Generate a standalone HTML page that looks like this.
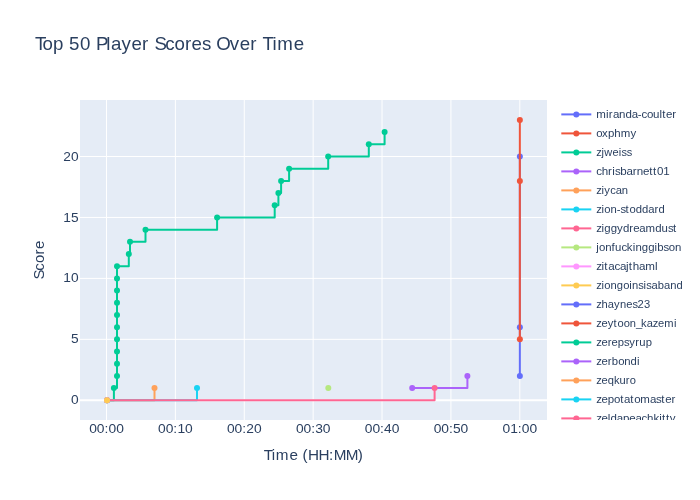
<!DOCTYPE html>
<html><head><meta charset="utf-8"><style>
html,body{margin:0;padding:0;background:#fff;}
svg{display:block;font-family:"Liberation Sans", sans-serif;will-change:transform;}
</style></head><body>
<svg width="700" height="500" viewBox="0 0 700 500">
<rect x="0" y="0" width="700" height="500" fill="#fff"/>
<rect x="80" y="100" width="467" height="320" fill="#E5ECF6"/>
<path d="M106.50,100V420" stroke="#fff" stroke-width="1"/>
<path d="M175.38,100V420" stroke="#fff" stroke-width="1"/>
<path d="M244.27,100V420" stroke="#fff" stroke-width="1"/>
<path d="M313.15,100V420" stroke="#fff" stroke-width="1"/>
<path d="M382.03,100V420" stroke="#fff" stroke-width="1"/>
<path d="M450.92,100V420" stroke="#fff" stroke-width="1"/>
<path d="M519.80,100V420" stroke="#fff" stroke-width="1"/>
<path d="M80,339.35H547" stroke="#fff" stroke-width="1"/>
<path d="M80,278.40H547" stroke="#fff" stroke-width="1"/>
<path d="M80,217.45H547" stroke="#fff" stroke-width="1"/>
<path d="M80,156.50H547" stroke="#fff" stroke-width="1"/>
<path d="M80,400.30H547" stroke="#fff" stroke-width="2"/>
<defs><clipPath id="pc"><rect x="80" y="100" width="467" height="320"/></clipPath><clipPath id="lc"><rect x="550" y="100" width="150" height="320"/></clipPath></defs>
<g clip-path="url(#pc)">
<path d="M519.85,375.92H519.85V327.16H519.85V156.50" fill="none" stroke="#636efa" stroke-width="2" stroke-linejoin="round"/>
<circle cx="519.85" cy="375.92" r="3" fill="#636efa"/>
<circle cx="519.85" cy="327.16" r="3" fill="#636efa"/>
<circle cx="519.85" cy="156.50" r="3" fill="#636efa"/>
<path d="M519.85,339.35H519.85V180.88H519.85V119.93" fill="none" stroke="#EF553B" stroke-width="2" stroke-linejoin="round"/>
<circle cx="519.85" cy="339.35" r="3" fill="#EF553B"/>
<circle cx="519.85" cy="180.88" r="3" fill="#EF553B"/>
<circle cx="519.85" cy="119.93" r="3" fill="#EF553B"/>
<path d="M107.00,400.30H113.90V388.11H117.00V375.92H117.00V363.73H117.00V351.54H117.00V339.35H117.00V327.16H117.00V314.97H117.00V302.78H117.00V290.59H117.00V278.40H117.00V266.21H128.80V254.02H130.00V241.83H145.50V229.64H217.10V217.45H274.70V205.26H278.40V193.07H281.10V180.88H289.10V168.69H328.20V156.50H368.80V144.31H384.60V132.12" fill="none" stroke="#00cc96" stroke-width="2" stroke-linejoin="round"/>
<circle cx="107.00" cy="400.30" r="3" fill="#00cc96"/>
<circle cx="113.90" cy="388.11" r="3" fill="#00cc96"/>
<circle cx="117.00" cy="375.92" r="3" fill="#00cc96"/>
<circle cx="117.00" cy="363.73" r="3" fill="#00cc96"/>
<circle cx="117.00" cy="351.54" r="3" fill="#00cc96"/>
<circle cx="117.00" cy="339.35" r="3" fill="#00cc96"/>
<circle cx="117.00" cy="327.16" r="3" fill="#00cc96"/>
<circle cx="117.00" cy="314.97" r="3" fill="#00cc96"/>
<circle cx="117.00" cy="302.78" r="3" fill="#00cc96"/>
<circle cx="117.00" cy="290.59" r="3" fill="#00cc96"/>
<circle cx="117.00" cy="278.40" r="3" fill="#00cc96"/>
<circle cx="117.00" cy="266.21" r="3" fill="#00cc96"/>
<circle cx="128.80" cy="254.02" r="3" fill="#00cc96"/>
<circle cx="130.00" cy="241.83" r="3" fill="#00cc96"/>
<circle cx="145.50" cy="229.64" r="3" fill="#00cc96"/>
<circle cx="217.10" cy="217.45" r="3" fill="#00cc96"/>
<circle cx="274.70" cy="205.26" r="3" fill="#00cc96"/>
<circle cx="278.40" cy="193.07" r="3" fill="#00cc96"/>
<circle cx="281.10" cy="180.88" r="3" fill="#00cc96"/>
<circle cx="289.10" cy="168.69" r="3" fill="#00cc96"/>
<circle cx="328.20" cy="156.50" r="3" fill="#00cc96"/>
<circle cx="368.80" cy="144.31" r="3" fill="#00cc96"/>
<circle cx="384.60" cy="132.12" r="3" fill="#00cc96"/>
<path d="M412.20,388.11H467.40V375.92" fill="none" stroke="#ab63fa" stroke-width="2" stroke-linejoin="round"/>
<circle cx="412.20" cy="388.11" r="3" fill="#ab63fa"/>
<circle cx="467.40" cy="375.92" r="3" fill="#ab63fa"/>
<path d="M107.00,400.30H154.50V388.11" fill="none" stroke="#FFA15A" stroke-width="2" stroke-linejoin="round"/>
<circle cx="107.00" cy="400.30" r="3" fill="#FFA15A"/>
<circle cx="154.50" cy="388.11" r="3" fill="#FFA15A"/>
<path d="M107.00,400.30H197.00V388.11" fill="none" stroke="#19d3f3" stroke-width="2" stroke-linejoin="round"/>
<circle cx="107.00" cy="400.30" r="3" fill="#19d3f3"/>
<circle cx="197.00" cy="388.11" r="3" fill="#19d3f3"/>
<path d="M107.00,400.30H434.60V388.11" fill="none" stroke="#FF6692" stroke-width="2" stroke-linejoin="round"/>
<circle cx="107.00" cy="400.30" r="3" fill="#FF6692"/>
<circle cx="434.60" cy="388.11" r="3" fill="#FF6692"/>
<circle cx="328.30" cy="388.11" r="3" fill="#B6E880"/>
<circle cx="107.00" cy="400.30" r="3" fill="#FF97FF"/>
<circle cx="107.00" cy="400.30" r="3" fill="#FECB52"/>
</g>
<text x="-7.14" y="0" font-size="12.84" transform="translate(78.60,404.30) scale(1.0693,1)" fill="#2a3f5f">0</text>
<text x="-7.14" y="0" font-size="12.84" transform="translate(78.60,343.38) scale(1.0693,1)" fill="#2a3f5f">5</text>
<text x="-14.28 -7.14" y="0" font-size="12.84" transform="translate(78.60,282.45) scale(1.0693,1)" fill="#2a3f5f">10</text>
<text x="-14.28 -7.14" y="0" font-size="12.84" transform="translate(78.60,221.53) scale(1.0693,1)" fill="#2a3f5f">15</text>
<text x="-14.28 -7.14" y="0" font-size="12.84" transform="translate(78.60,160.60) scale(1.0693,1)" fill="#2a3f5f">20</text>
<text x="-16.06 -8.97 -1.88 1.88 8.97" y="0" font-size="12.84" transform="translate(106.50,433.00) scale(1.0764,1)" fill="#2a3f5f">00:00</text>
<text x="-16.06 -8.97 -1.88 1.88 8.97" y="0" font-size="12.84" transform="translate(175.38,433.00) scale(1.0764,1)" fill="#2a3f5f">00:10</text>
<text x="-16.06 -8.97 -1.88 1.88 8.97" y="0" font-size="12.84" transform="translate(244.27,433.00) scale(1.0764,1)" fill="#2a3f5f">00:20</text>
<text x="-16.06 -8.97 -1.88 1.88 8.97" y="0" font-size="12.84" transform="translate(313.15,433.00) scale(1.0764,1)" fill="#2a3f5f">00:30</text>
<text x="-16.06 -8.97 -1.88 1.88 8.97" y="0" font-size="12.84" transform="translate(382.03,433.00) scale(1.0764,1)" fill="#2a3f5f">00:40</text>
<text x="-16.06 -8.97 -1.88 1.88 8.97" y="0" font-size="12.84" transform="translate(450.92,433.00) scale(1.0764,1)" fill="#2a3f5f">00:50</text>
<text x="-16.06 -8.97 -1.88 1.88 8.97" y="0" font-size="12.84" transform="translate(519.80,433.00) scale(1.0764,1)" fill="#2a3f5f">01:00</text>
<text x="-48.81 -40.85 -37.03 -23.66 -15.22 -10.85 -5.50 4.82 15.14 19.77 31.61 43.46" y="0" font-size="14.98" transform="translate(313.50,459.80) scale(1.0199,1)" fill="#2a3f5f">Time (HH:MM)</text>
<text x="-19.57 -10.70 -3.02 5.53 10.97" y="0" font-size="14.98" transform="translate(44.00,260.00) rotate(-90) scale(1.0020,1)" fill="#2a3f5f">Score</text>
<text x="0.00 7.29 17.41 27.90 33.16 43.68 54.20 59.45 69.42 74.02 84.15 93.94 104.11 110.91 116.16 126.66 135.75 145.87 152.30 162.47 171.09 176.34 189.36 199.14 209.32 216.12 221.37 230.96 235.56 251.66" y="0" font-size="18.19" transform="translate(35.00,49.80) scale(1.0281,1)" fill="#2a3f5f">Top 50 Player Scores Over Time</text>
<g clip-path="url(#lc)">
<path d="M561.3,114.40H591.3" stroke="#636efa" stroke-width="2"/>
<circle cx="576.3" cy="114.40" r="3" fill="#636efa"/>
<text x="0.00 9.04 11.62 15.43 21.12 27.00 32.89 38.58 41.93 47.03 52.71 58.59 61.17 64.81 70.52" y="0" font-size="10.70" transform="translate(596.30,117.90) scale(1.0775,1)" fill="#2a3f5f">miranda-coulter</text>
<path d="M561.3,133.40H591.3" stroke="#EF553B" stroke-width="2"/>
<circle cx="576.3" cy="133.40" r="3" fill="#EF553B"/>
<text x="0.00 5.43 10.96 16.90 22.83 31.93" y="0" font-size="10.70" transform="translate(596.30,136.90) scale(1.0696,1)" fill="#2a3f5f">oxphmy</text>
<path d="M561.3,152.40H591.3" stroke="#00cc96" stroke-width="2"/>
<circle cx="576.3" cy="152.40" r="3" fill="#00cc96"/>
<text x="0.00 5.09 7.78 15.72 21.68 24.38 29.43" y="0" font-size="10.70" transform="translate(596.30,155.90) scale(1.0312,1)" fill="#2a3f5f">zjweiss</text>
<path d="M561.3,171.40H591.3" stroke="#ab63fa" stroke-width="2"/>
<circle cx="576.3" cy="171.40" r="3" fill="#ab63fa"/>
<text x="0.00 5.08 10.93 14.73 17.30 22.11 27.97 33.63 37.27 43.12 48.81 52.43 56.05 61.93" y="0" font-size="10.70" transform="translate(596.30,174.90) scale(1.0826,1)" fill="#2a3f5f">chrisbarnett01</text>
<path d="M561.3,190.40H591.3" stroke="#FFA15A" stroke-width="2"/>
<circle cx="576.3" cy="190.40" r="3" fill="#FFA15A"/>
<text x="0.00 4.99 7.63 13.25 18.48 24.30" y="0" font-size="10.70" transform="translate(596.30,193.90) scale(1.0521,1)" fill="#2a3f5f">ziycan</text>
<path d="M561.3,209.40H591.3" stroke="#19d3f3" stroke-width="2"/>
<circle cx="576.3" cy="209.40" r="3" fill="#19d3f3"/>
<text x="0.00 4.97 7.60 13.40 19.40 22.82 27.75 31.47 37.26 43.28 49.29 55.09 58.82" y="0" font-size="10.70" transform="translate(596.30,212.90) scale(1.0558,1)" fill="#2a3f5f">zion-stoddard</text>
<path d="M561.3,228.40H591.3" stroke="#FF6692" stroke-width="2"/>
<circle cx="576.3" cy="228.40" r="3" fill="#FF6692"/>
<text x="0.00 4.91 7.51 13.45 19.39 24.93 30.87 34.51 40.27 46.00 55.12 61.06 66.99 71.86" y="0" font-size="10.70" transform="translate(596.30,231.90) scale(1.0687,1)" fill="#2a3f5f">ziggydreamdust</text>
<path d="M561.3,247.40H591.3" stroke="#B6E880" stroke-width="2"/>
<circle cx="576.3" cy="247.40" r="3" fill="#B6E880"/>
<text x="0.00 2.61 8.34 14.29 17.59 23.54 28.69 34.12 36.73 42.68 48.63 54.58 57.19 63.14 68.03 73.77" y="0" font-size="10.70" transform="translate(596.30,250.90) scale(1.0662,1)" fill="#2a3f5f">jonfuckinggibson</text>
<path d="M561.3,266.40H591.3" stroke="#FF97FF" stroke-width="2"/>
<circle cx="576.3" cy="266.40" r="3" fill="#FF97FF"/>
<text x="0.00 4.83 7.39 11.00 16.64 21.70 27.33 29.89 33.50 39.33 44.97 53.94" y="0" font-size="10.70" transform="translate(596.30,269.90) scale(1.0866,1)" fill="#2a3f5f">zitacajthaml</text>
<path d="M561.3,285.40H591.3" stroke="#FECB52" stroke-width="2"/>
<circle cx="576.3" cy="285.40" r="3" fill="#FECB52"/>
<text x="0.00 5.01 7.67 13.51 19.57 25.63 31.48 34.13 40.19 45.17 47.82 52.80 58.65 64.72 70.57 76.63" y="0" font-size="10.70" transform="translate(596.30,288.90) scale(1.0467,1)" fill="#2a3f5f">ziongoinsisaband</text>
<path d="M561.3,304.40H591.3" stroke="#636efa" stroke-width="2"/>
<circle cx="576.3" cy="304.40" r="3" fill="#636efa"/>
<text x="0.00 5.03 11.09 16.96 22.63 28.69 34.58 39.57 45.66" y="0" font-size="10.70" transform="translate(596.30,307.90) scale(1.0445,1)" fill="#2a3f5f">zhaynes23</text>
<path d="M561.3,323.40H591.3" stroke="#EF553B" stroke-width="2"/>
<circle cx="576.3" cy="323.40" r="3" fill="#EF553B"/>
<text x="0.00 5.04 10.95 16.64 20.41 26.28 32.16 38.25 43.05 48.45 54.34 59.38 65.29 74.65" y="0" font-size="10.70" transform="translate(596.30,326.90) scale(1.0409,1)" fill="#2a3f5f">zeytoon_kazemi</text>
<path d="M561.3,342.40H591.3" stroke="#00cc96" stroke-width="2"/>
<circle cx="576.3" cy="342.40" r="3" fill="#00cc96"/>
<text x="0.00 4.99 10.83 14.53 20.37 26.40 31.35 36.97 40.88 46.90" y="0" font-size="10.70" transform="translate(596.30,345.90) scale(1.0527,1)" fill="#2a3f5f">zerepsyrup</text>
<path d="M561.3,361.40H591.3" stroke="#ab63fa" stroke-width="2"/>
<circle cx="576.3" cy="361.40" r="3" fill="#ab63fa"/>
<text x="0.00 4.96 10.77 14.66 20.65 26.43 32.42 38.42" y="0" font-size="10.70" transform="translate(596.30,364.90) scale(1.0584,1)" fill="#2a3f5f">zerbondi</text>
<path d="M561.3,380.40H591.3" stroke="#FFA15A" stroke-width="2"/>
<circle cx="576.3" cy="380.40" r="3" fill="#FFA15A"/>
<text x="0.00 5.05 10.97 17.07 22.34 28.44 32.18" y="0" font-size="10.70" transform="translate(596.30,383.90) scale(1.0398,1)" fill="#2a3f5f">zeqkuro</text>
<path d="M561.3,399.40H591.3" stroke="#19d3f3" stroke-width="2"/>
<circle cx="576.3" cy="399.40" r="3" fill="#19d3f3"/>
<text x="0.00 4.89 10.61 16.52 22.22 25.87 31.57 35.22 40.92 49.99 55.69 60.54 64.19 69.92" y="0" font-size="10.70" transform="translate(596.30,402.90) scale(1.0742,1)" fill="#2a3f5f">zepotatomaster</text>
<path d="M561.3,418.40H591.3" stroke="#FF6692" stroke-width="2"/>
<circle cx="576.3" cy="418.40" r="3" fill="#FF6692"/>
<text x="0.00 4.87 10.58 13.16 19.06 24.74 30.64 36.35 42.04 47.14 53.03 58.40 60.98 64.62 68.26" y="0" font-size="10.70" transform="translate(596.30,421.90) scale(1.0772,1)" fill="#2a3f5f">zeldapeachkitty</text>
</g>
</svg>
</body></html>
